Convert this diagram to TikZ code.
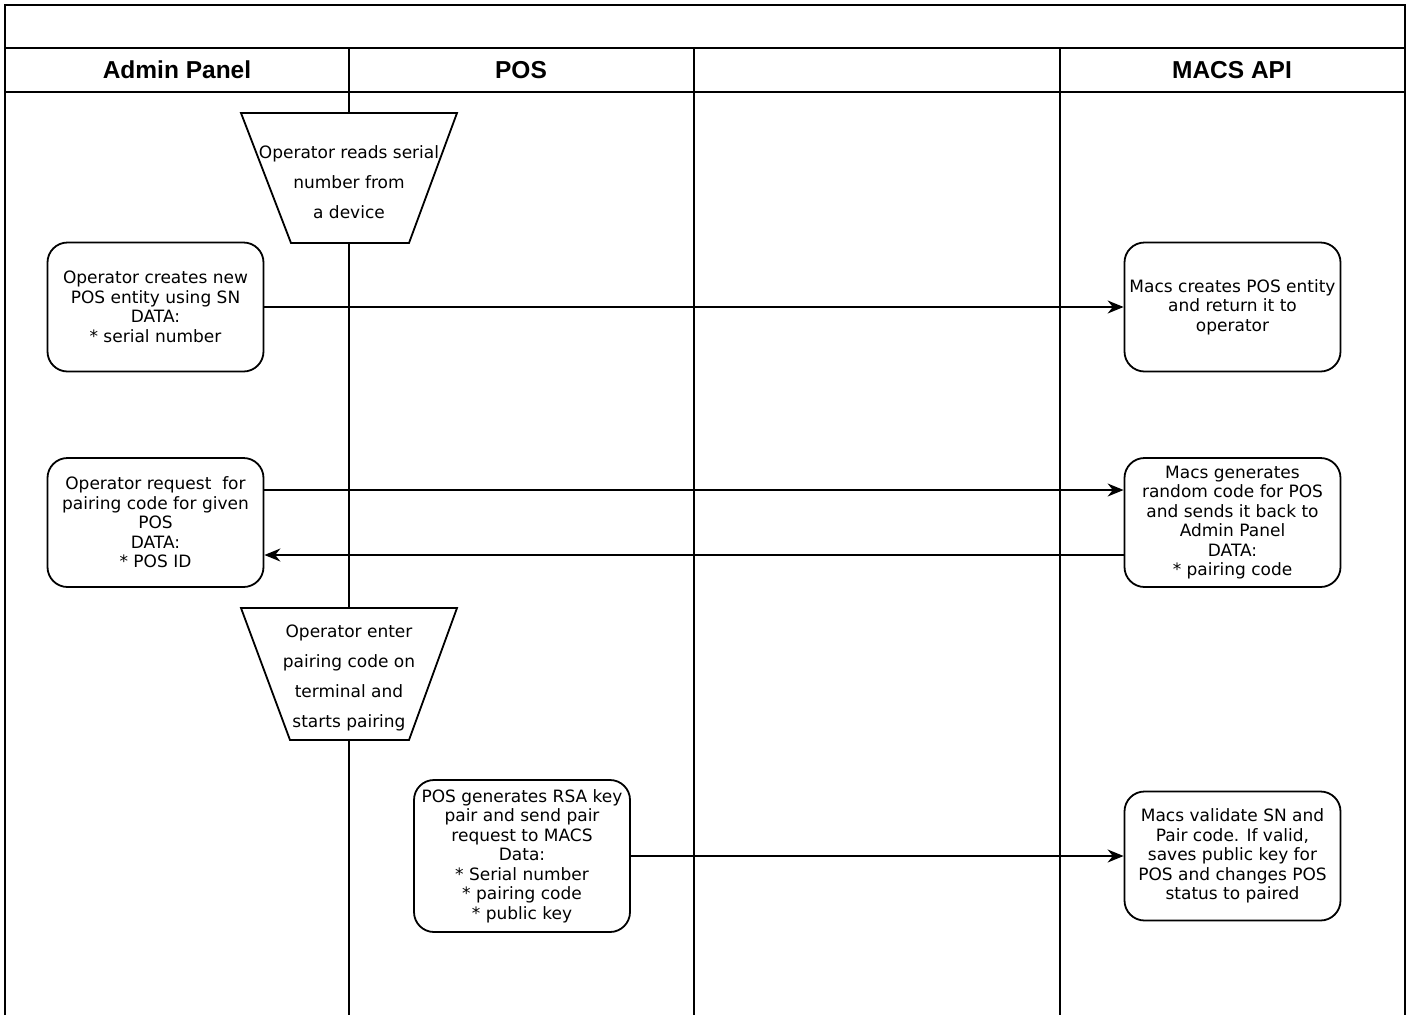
\documentclass[tikz,border=0pt]{standalone}
\usepackage{fontspec}
\setmainfont{DejaVu Sans}
\newfontfamily\headfont{Liberation Sans}
\usetikzlibrary{arrows.meta}

\begin{document}
\begin{tikzpicture}[x=1pt, y=-1pt, line width=1.8pt,
  every node/.style={font=\fontsize{17}{19.5}\selectfont},
  lanehead/.style={font=\headfont\bfseries\fontsize{24.5}{26}\selectfont},
  stepbox/.style={draw, rounded corners=20pt, fill=white, align=center,
    minimum width=216pt, minimum height=129pt, inner sep=0pt},
  manual/.style={align=center, inner sep=0pt, font=\fontsize{17}{30}\selectfont},
  manualshape/.style={draw, fill=white},
  msg/.style={-{Stealth[length=16pt,width=13pt]}}]
  \useasboundingbox (0,0) rectangle (1410,1015);

  % frame and lanes
  \draw (5,1015) -- (5,5) -- (1405,5) -- (1405,1015);
  \draw (5,48) -- (1405,48);
  \draw (5,92) -- (1405,92);
  \draw (349,48) -- (349,1015);
  \draw (694,48) -- (694,1015);
  \draw (1060,48) -- (1060,1015);

  \node[lanehead] (hadmin) at (177,70) {Admin Panel};
  \node[lanehead] (hpos) at (521,70) {POS};
  \node[lanehead] (hmacs) at (1232,70) {MACS API};

  % manual steps
  \draw[manualshape] (241,113) -- (457,113) -- (409,243) -- (291,243) -- cycle;
  \node[manual] (readsn) at (349,182)
    {Operator reads serial\\number from\\a device};
  \draw[manualshape] (241,608) -- (457,608) -- (409,740) -- (290,740) -- cycle;
  \node[manual] (enter) at (349,678)
    {Operator enter\\pairing code on\\terminal and\\starts pairing};

  % steps
  \node[stepbox] (create) at (155.5,307)
    {Operator creates new\\POS entity using SN\\DATA:\\* serial number};
  \node[stepbox] (macscreate) at (1232.5,307)
    {Macs creates POS entity\\and return it to\\operator};
  \node[stepbox] (request) at (155.5,522.5)
    {Operator request \ for\\pairing code for given\\POS\\DATA:\\* POS ID};
  \node[stepbox] (gencode) at (1232.5,522.5)
    {Macs generates\\random code for POS\\and sends it back to\\Admin Panel\\DATA:\\* pairing code};
  \node[stepbox, minimum height=152pt] (rsa) at (522,856)
    {POS generates RSA key\\pair and send pair\\request to MACS\\Data:\\* Serial number\\* pairing code\\* public key};
  \node[stepbox] (validate) at (1232.5,856)
    {Macs validate SN and\\Pair code. If valid,\\saves public key for\\POS and changes POS\\status to paired};

  % messages
  \draw[msg] (create) -- (macscreate);
  \draw[msg] ([yshift=32.5pt]request.east) -- ([yshift=32.5pt]gencode.west);
  \draw[msg] ([yshift=-32.5pt]gencode.west) -- ([yshift=-32.5pt]request.east);
  \draw[msg] (rsa) -- (validate);
\end{tikzpicture}
\end{document}
